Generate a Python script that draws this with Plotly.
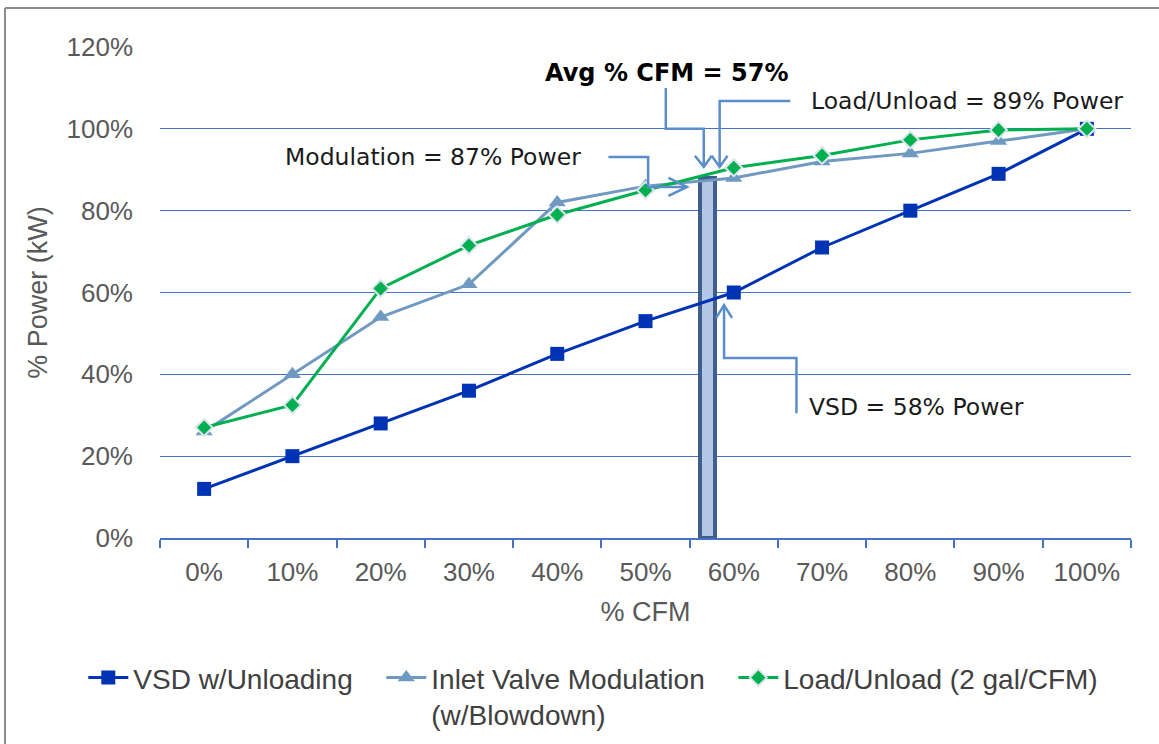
import plotly.graph_objects as go

# ---- data ----
cfm_labels = ["0%", "10%", "20%", "30%", "40%", "50%", "60%", "70%", "80%", "90%", "100%"]
vsd = [12, 20, 28, 36, 45, 53, 60, 71, 80, 89, 100]
inlet = [26, 40, 54, 62, 82, 86, 88, 92, 94, 97, 100]
load_unload = [27, 32.5, 61, 71.5, 79, 85, 90.5, 93.5, 97.3, 99.7, 100]
avg_cfm = 57          # %
avg_bar_height = 88   # % power at avg CFM
y_ticks = [0, 20, 40, 60, 80, 100, 120]

xs = list(range(len(cfm_labels)))
bar_x = avg_cfm / 10.0

GRID = "#4472C4"
CONN = "#5B8DCB"
TXT = "#595959"

fig = go.Figure()

fig.add_trace(go.Bar(
    x=[bar_x], y=[avg_bar_height], width=0.17,
    marker=dict(color="#B4C7E7", line=dict(color="#3F5E8C", width=4)),
    showlegend=False, hoverinfo="skip"))

fig.add_trace(go.Scatter(
    x=xs, y=vsd, mode="lines+markers", name="VSD w/Unloading",
    line=dict(color="#0033B4", width=3), legendwidth=243,
    marker=dict(symbol="square", size=14, color="#0033B4")))

fig.add_trace(go.Scatter(
    x=xs, y=inlet, mode="lines+markers", name="Inlet Valve Modulation<br>(w/Blowdown)",
    line=dict(color="#7099C2", width=3), legendwidth=297,
    marker=dict(symbol="triangle-up", size=15, color="#7099C2")))

fig.add_trace(go.Scatter(
    x=xs, y=load_unload, mode="lines+markers", name="Load/Unload (2 gal/CFM)",
    line=dict(color="#00B050", width=3),
    marker=dict(symbol="diamond", size=13, color="#00B050",
                line=dict(color="#DCE5F0", width=2))))

# ---- callout connectors (data coordinates) ----
def path(pts):
    return "M " + " L ".join(f"{x},{y}" for x, y in pts)

connectors = [
    # Avg % CFM
    [(5.23, 110.0), (5.23, 100.0), (5.66, 100.0), (5.66, 90.7)],
    [(5.56, 93.4), (5.66, 90.7), (5.75, 93.4)],
    # Load/Unload
    [(6.64, 106.8), (5.84, 106.8), (5.84, 90.7)],
    [(5.75, 93.4), (5.84, 90.7), (5.93, 93.4)],
    # Modulation
    [(4.58, 93.1), (5.03, 93.1), (5.03, 85.8), (5.47, 85.8)],
    [(5.26, 88.0), (5.47, 85.8), (5.26, 83.6)],
    # VSD
    [(6.71, 30.5), (6.71, 44.0), (5.89, 44.0), (5.89, 56.9)],
    [(5.80, 53.8), (5.89, 56.9), (5.98, 53.8)],
]
shapes = [dict(type="path", path=path(p), xref="x", yref="y",
               line=dict(color=CONN, width=2.5)) for p in connectors]

# outer chart border
shapes.append(dict(type="line", xref="paper", yref="paper",
                   x0=-0.1596, x1=1.2, y0=1.0794, y1=1.0794,
                   line=dict(color="#8C8C8C", width=2)))
shapes.append(dict(type="line", xref="paper", yref="paper",
                   x0=-0.1596, x1=-0.1596, y0=1.0794, y1=-0.5,
                   line=dict(color="#8C8C8C", width=2)))

ann_font = dict(family="DejaVu Sans, Verdana, sans-serif", size=23.5, color="#1A1A1A")
annotations = [
    dict(x=5.24, y=113.6, text=f"<b>Avg % CFM = {avg_cfm}%</b>", showarrow=False,
         xanchor="center", yanchor="middle",
         font=dict(family="DejaVu Sans, Verdana, sans-serif", size=24, color="#000000")),
    dict(x=6.85, y=106.8, text="Load/Unload = 89% Power", showarrow=False,
         xanchor="left", yanchor="middle", font=ann_font),
    dict(x=4.29, y=93.1, text="Modulation = 87% Power", showarrow=False,
         xanchor="right", yanchor="middle", font=ann_font),
    dict(x=6.83, y=32.0, text="VSD = 58% Power", showarrow=False,
         xanchor="left", yanchor="middle", font=ann_font),
]

fig.update_layout(
    width=1159, height=744,
    margin=dict(l=160, r=28, t=47, b=206, autoexpand=False),
    plot_bgcolor="white", paper_bgcolor="white",
    font=dict(family="Liberation Sans, Arial, sans-serif", color=TXT),
    shapes=shapes, annotations=annotations,
    showlegend=True,
    legend=dict(orientation="h", x=-0.079, y=-0.234, xanchor="left", yanchor="top",
                valign="top", font=dict(size=28, color="#404040"),
                traceorder="normal", itemwidth=40),
    bargap=0,
)

fig.update_xaxes(
    range=[-0.5, 10.5], tickmode="array", tickvals=xs, ticktext=cfm_labels,
    ticks="", showgrid=False, showline=True, linecolor=GRID, linewidth=1.5,
    tickfont=dict(size=26, color=TXT), ticklabelstandoff=10,
    minor=dict(tickmode="array", tickvals=[i - 0.5 for i in range(len(xs) + 1)],
               ticks="outside", ticklen=8, tickcolor=GRID, tickwidth=1.5, showgrid=False),
    title=dict(text="% CFM", font=dict(size=27, color=TXT), standoff=16),
    zeroline=False, fixedrange=True, automargin=False,
)
fig.update_yaxes(
    range=[0, 120], tickmode="array", tickvals=y_ticks,
    ticktext=[f"{v}%" for v in y_ticks],
    showgrid=True, gridcolor=GRID, gridwidth=1, showline=False, zeroline=False,
    ticks="", tickfont=dict(size=26, color=TXT), ticklabelstandoff=26,
    title=dict(text="% Power (kW)", font=dict(size=27, color=TXT), standoff=11),
    fixedrange=True, automargin=False,
)

fig.write_html("out.html", config={"displayModeBar": False},
               post_script="document.body.style.margin='0';document.body.style.overflow='hidden';")
